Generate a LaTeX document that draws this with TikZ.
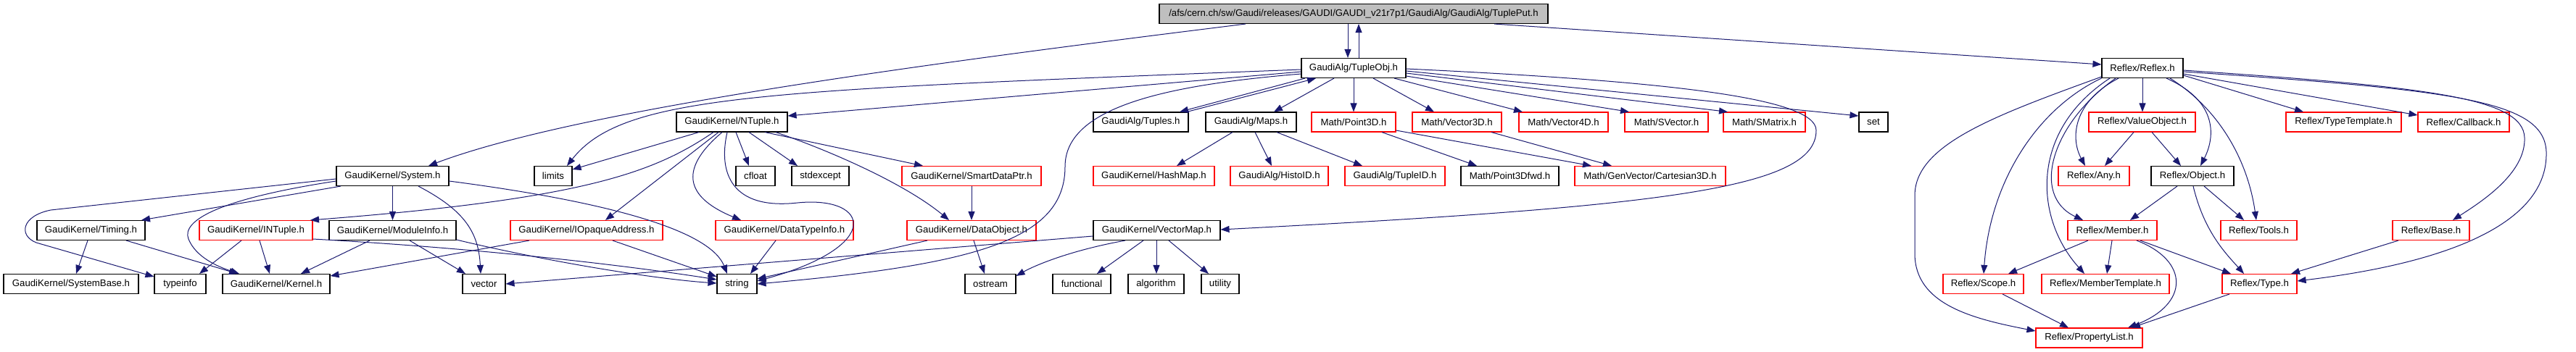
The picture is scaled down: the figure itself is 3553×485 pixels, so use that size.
\documentclass[tikz,border=0pt]{standalone}
\usepackage{fontspec}
\setmainfont{Liberation Sans}
\usetikzlibrary{arrows.meta}
\definecolor{edgeblue}{RGB}{25,25,112}
\definecolor{topgray}{RGB}{191,191,191}
\begin{document}
\begin{tikzpicture}[x=1pt,y=-1pt,
  file/.style={draw=black, line width=1.1pt, minimum height=27pt, inner sep=0pt, font=\fontsize{13.2}{15}\selectfont},
  redfile/.style={file, draw=red},
  dep/.style={draw=edgeblue, line width=1pt, -{Triangle[length=12pt,width=9pt]}}]
\useasboundingbox[fill=white] (0,0) rectangle (3553,485);
% row 0
\node[file, fill=topgray, minimum width=536pt] (top) at (1867,19) {/afs/cern.ch/sw/Gaudi/releases/GAUDI/GAUDI\_v21r7p1/GaudiAlg/GaudiAlg/TuplePut.h};
% row 1
\node[file, minimum width=144pt] (tupleobj) at (1867,94) {GaudiAlg/TupleObj.h};
\node[file, minimum width=112pt] (reflex) at (2955,94) {Reflex/Reflex.h};
% row 2
\node[file, minimum width=153pt] (ntuple) at (1009.5,168.5) {GaudiKernel/NTuple.h};
\node[file, minimum width=131pt] (tuples) at (1573.5,168.5) {GaudiAlg/Tuples.h};
\node[file, minimum width=125pt] (maps) at (1725.5,168.5) {GaudiAlg/Maps.h};
\node[redfile, minimum width=116pt] (point3d) at (1867,168.5) {Math/Point3D.h};
\node[redfile, minimum width=123pt] (vector3d) at (2009.5,168.5) {Math/Vector3D.h};
\node[redfile, minimum width=123pt] (vector4d) at (2156.5,168.5) {Math/Vector4D.h};
\node[redfile, minimum width=115pt] (svector) at (2298.5,168.5) {Math/SVector.h};
\node[redfile, minimum width=113pt] (smatrix) at (2433.5,168.5) {Math/SMatrix.h};
\node[file, minimum width=40pt] (set) at (2584,168.5) {set};
\node[redfile, minimum width=147pt] (valueobject) at (2954.5,168.5) {Reflex/ValueObject.h};
\node[redfile, minimum width=159pt] (typetemplate) at (3232.5,168.5) {Reflex/TypeTemplate.h};
\node[redfile, minimum width=126pt] (callback) at (3398,168.5) {Reflex/Callback.h};
% row 3
\node[file, minimum width=155pt] (system) at (541.5,243) {GaudiKernel/System.h};
\node[file, minimum width=52pt] (limits) at (763,243) {limits};
\node[file, minimum width=54pt] (cfloat) at (1042,243) {cfloat};
\node[file, minimum width=79pt] (stdexcept) at (1131.5,243) {stdexcept};
\node[redfile, minimum width=192pt] (smartdataptr) at (1340,243) {GaudiKernel/SmartDataPtr.h};
\node[redfile, minimum width=167pt] (hashmap) at (1591.5,243) {GaudiKernel/HashMap.h};
\node[redfile, minimum width=135pt] (histoid) at (1764.5,243) {GaudiAlg/HistoID.h};
\node[redfile, minimum width=138pt] (tupleid) at (1924,243) {GaudiAlg/TupleID.h};
\node[file, minimum width=135pt] (point3dfwd) at (2082.5,243) {Math/Point3Dfwd.h};
\node[redfile, minimum width=208pt] (cartesian) at (2276,243) {Math/GenVector/Cartesian3D.h};
\node[redfile, minimum width=98pt] (any) at (2888,243) {Reflex/Any.h};
\node[file, minimum width=114pt] (object) at (3024,243) {Reflex/Object.h};
% row 4
\node[file, minimum width=149pt] (timing) at (125.5,318) {GaudiKernel/Timing.h};
\node[redfile, minimum width=156pt] (intuple) at (353,318) {GaudiKernel/INTuple.h};
\node[file, minimum width=175pt] (moduleinfo) at (541.5,318) {GaudiKernel/ModuleInfo.h};
\node[redfile, minimum width=210pt] (iopaque) at (809,318) {GaudiKernel/IOpaqueAddress.h};
\node[redfile, minimum width=190pt] (datatypeinfo) at (1082,318) {GaudiKernel/DataTypeInfo.h};
\node[redfile, minimum width=178pt] (dataobject) at (1340,318) {GaudiKernel/DataObject.h};
\node[file, minimum width=175pt] (vectormap) at (1595.5,318) {GaudiKernel/VectorMap.h};
\node[redfile, minimum width=123pt] (member) at (2913.5,318) {Reflex/Member.h};
\node[redfile, minimum width=105pt] (tools) at (3115.5,318) {Reflex/Tools.h};
\node[redfile, minimum width=106pt] (base) at (3353,318) {Reflex/Base.h};
% row 5
\node[file, minimum width=186pt] (systembase) at (98,392) {GaudiKernel/SystemBase.h};
\node[file, minimum width=71pt] (typeinfo) at (248.5,392) {typeinfo};
\node[file, minimum width=148pt] (kernel) at (381,392) {GaudiKernel/Kernel.h};
\node[file, minimum width=59pt] (vector) at (667.5,392) {vector};
\node[file, minimum width=55pt] (string) at (1016.5,392) {string};
\node[file, minimum width=70pt] (ostream) at (1366,392) {ostream};
\node[file, minimum width=80pt] (functional) at (1492,392) {functional};
\node[file, minimum width=77pt] (algorithm) at (1594.5,392) {algorithm};
\node[file, minimum width=52pt] (utility) at (1683,392) {utility};
\node[redfile, minimum width=111pt] (scope) at (2735.5,392) {Reflex/Scope.h};
\node[redfile, minimum width=176pt] (membertemplate) at (2904,392) {Reflex/MemberTemplate.h};
\node[redfile, minimum width=103pt] (type) at (3116.5,392) {Reflex/Type.h};
% row 6
\node[redfile, minimum width=147pt] (propertylist) at (2881.5,466.5) {Reflex/PropertyList.h};

% ---- edges: TuplePut.h
\draw[dep] (top.south -| 1718,0) .. controls (1300,85) and (800,150) .. (system.north -| 591,0);
\draw[dep] (top.south -| 1859,0) -- (tupleobj.north -| 1859,0);
\draw[dep] (tupleobj.north -| 1874,0) -- (top.south -| 1874,0);
\draw[dep] (top.south -| 2061,0) -- (reflex.west |- 0,89);
% ---- TupleObj.h
\draw[dep] (tupleobj.west |- 0,96) .. controls (1050,125) and (860,130) .. (limits.north -| 782,0);
\draw[dep] (tupleobj.west |- 0,99) -- (ntuple.east |- 0,160);
\draw[dep] (tupleobj.west |- 0,102) .. controls (1600,118) and (1469,150) .. (1469,230) .. controls (1469,330) and (1350,365) .. (string.east |- 0,392);
\draw[dep] (tupleobj.south -| 1800,0) -- (tuples.north -| 1627,0);
\draw[dep] (tuples.north -| 1637,0) -- (tupleobj.south -| 1815,0);
\draw[dep] (tupleobj.south -| 1840,0) -- (maps.north -| 1757,0);
\draw[dep] (tupleobj.south) -- (point3d.north);
\draw[dep] (tupleobj.south -| 1894,0) -- (vector3d.north -| 1978,0);
\draw[dep] (tupleobj.south -| 1923,0) -- (vector4d.north -| 2100,0);
\draw[dep] (tupleobj.east |- 0,105) -- (svector.north -| 2247,0);
\draw[dep] (tupleobj.east |- 0,101) -- (smatrix.north -| 2383,0);
\draw[dep] (tupleobj.east |- 0,98) -- (set.west |- 0,160);
\draw[dep] (tupleobj.east |- 0,95) .. controls (2300,112) and (2505,135) .. (2505,180) .. controls (2505,260) and (2300,285) .. (vectormap.east |- 0,317);
% ---- NTuple.h
\draw[dep] (ntuple.south -| 964,0) -- (limits.east |- 0,234);
\draw[dep] (ntuple.south -| 984,0) .. controls (900,240) and (800,275) .. (intuple.north -| 428,0);
\draw[dep] (ntuple.south -| 991,0) -- (iopaque.north -| 835,0);
\draw[dep] (ntuple.south -| 996,0) .. controls (940,230) and (940,270) .. (datatypeinfo.north -| 1022,0);
\draw[dep] (ntuple.south -| 1003,0) .. controls (990,240) and (1010,290) .. (1100,280) .. controls (1200,270) and (1220,340) .. (string.east |- 0,388);
\draw[dep] (ntuple.south -| 1015,0) -- (cfloat.north -| 1033,0);
\draw[dep] (ntuple.south -| 1033,0) -- (stdexcept.north -| 1100,0);
\draw[dep] (ntuple.south -| 1055,0) -- (smartdataptr.north -| 1273,0);
\draw[dep] (ntuple.south -| 1070,0) .. controls (1150,210) and (1250,255) .. (dataobject.north -| 1309,0);
% ---- System.h
\draw[dep] (system.south -| 470,0) -- (timing.north -| 195,0);
\draw[dep] (system.west |- 0,247) -- (70,290) .. controls (30,298) and (25,325) .. (50,335) -- (typeinfo.west |- 0,382);
\draw[dep] (system.west |- 0,250) .. controls (300,275) and (250,305) .. (260,330) .. controls (270,355) and (300,368) .. (kernel.north -| 330,0);
\draw[dep] (system.south) -- (moduleinfo.north);
\draw[dep] (system.south -| 577,0) .. controls (640,290) and (660,320) .. (vector.north -| 663,0);
\draw[dep] (system.east |- 0,250) .. controls (850,280) and (980,320) .. (string.north -| 1003,0);
% ---- INTuple.h
\draw[dep] (intuple.south -| 333,0) -- (typeinfo.north -| 275,0);
\draw[dep] (intuple.south -| 358,0) -- (kernel.north -| 372,0);
\draw[dep] (intuple.east |- 0,330) .. controls (700,345) and (900,372) .. (string.west |- 0,386);
% ---- ModuleInfo.h
\draw[dep] (moduleinfo.south -| 510,0) -- (kernel.north -| 415,0);
\draw[dep] (moduleinfo.south -| 565,0) -- (vector.north -| 642,0);
\draw[dep] (moduleinfo.east |- 0,331) .. controls (750,360) and (900,385) .. (string.west |- 0,391);
% ---- IOpaqueAddress.h, DataTypeInfo.h, SmartDataPtr.h, DataObject.h
\draw[dep] (iopaque.south -| 730,0) -- (kernel.east |- 0,381);
\draw[dep] (iopaque.south -| 845,0) -- (string.west |- 0,382);
\draw[dep] (datatypeinfo.south -| 1070,0) -- (string.north -| 1035,0);
\draw[dep] (smartdataptr.south) -- (dataobject.north);
\draw[dep] (dataobject.south -| 1343,0) -- (ostream.north -| 1358,0);
\draw[dep] (dataobject.south -| 1279,0) -- (string.east |- 0,385);
% ---- VectorMap.h
\draw[dep] (vectormap.west |- 0,326) -- (vector.east |- 0,392);
\draw[dep] (vectormap.south -| 1552,0) .. controls (1480,345) and (1430,365) .. (ostream.east |- 0,381);
\draw[dep] (vectormap.south -| 1577,0) -- (functional.north -| 1513,0);
\draw[dep] (vectormap.south -| 1595,0) -- (algorithm.north -| 1595,0);
\draw[dep] (vectormap.south -| 1612,0) -- (utility.north -| 1667,0);
% ---- Timing.h
\draw[dep] (timing.south -| 121,0) -- (systembase.north -| 105,0);
\draw[dep] (timing.south -| 174,0) -- (kernel.north -| 328,0);
% ---- Maps.h, Point3D.h, Vector3D.h
\draw[dep] (maps.south -| 1700,0) -- (hashmap.north -| 1623,0);
\draw[dep] (maps.south -| 1731,0) -- (histoid.north -| 1754,0);
\draw[dep] (maps.south -| 1761,0) -- (tupleid.north -| 1879,0);
\draw[dep] (point3d.south -| 1906,0) -- (point3dfwd.north -| 2037,0);
\draw[dep] (point3d.east |- 0,180) -- (cartesian.north -| 2195,0);
\draw[dep] (vector3d.south -| 2057,0) -- (cartesian.north -| 2223,0);
% ---- Reflex.h
\draw[dep] (reflex.south) -- (valueobject.north -| 2955,0);
\draw[dep] (reflex.south -| 2922,0) .. controls (2860,140) and (2855,190) .. (any.north -| 2876,0);
\draw[dep] (reflex.south -| 2988,0) .. controls (3060,140) and (3055,190) .. (object.north -| 3035,0);
\draw[dep] (reflex.south -| 2993,0) .. controls (3060,150) and (3100,220) .. (tools.north -| 3112,0);
\draw[dep] (reflex.west |- 0,106) .. controls (2750,160) and (2641,200) .. (2641,270) -- (2641,350) .. controls (2641,420) and (2720,440) .. (propertylist.west |- 0,457);
\draw[dep] (reflex.west |- 0,108) .. controls (2810,150) and (2745,250) .. (scope.north -| 2736,0);
\draw[dep] (reflex.south -| 2910,0) .. controls (2800,180) and (2805,300) .. (membertemplate.north -| 2875,0);
\draw[dep] (reflex.south -| 2918,0) .. controls (2830,170) and (2800,270) .. (member.north -| 2873,0);
\draw[dep] (reflex.east |- 0,104) -- (typetemplate.north -| 3177,0);
\draw[dep] (reflex.east |- 0,102) -- (callback.west |- 0,159);
\draw[dep] (reflex.east |- 0,97) .. controls (3350,120) and (3480,135) .. (3482,190) .. controls (3484,240) and (3420,280) .. (base.north -| 3383,0);
\draw[dep] (reflex.east |- 0,99) .. controls (3400,125) and (3515,140) .. (3512,215) .. controls (3510,300) and (3400,360) .. (type.east |- 0,388);
% ---- ValueObject.h, Object.h
\draw[dep] (valueobject.south -| 2943,0) -- (any.north -| 2903,0);
\draw[dep] (valueobject.south -| 2968,0) -- (object.north -| 3008,0);
\draw[dep] (object.south -| 3003,0) -- (member.north -| 2938,0);
\draw[dep] (object.south -| 3025,0) .. controls (3040,320) and (3070,350) .. (type.north -| 3095,0);
\draw[dep] (object.south -| 3040,0) -- (tools.north -| 3095,0);
% ---- Member.h, Scope.h, Type.h, Base.h
\draw[dep] (member.south -| 2880,0) -- (scope.north -| 2770,0);
\draw[dep] (member.south -| 2913,0) -- (membertemplate.north -| 2906,0);
\draw[dep] (member.south -| 2947,0) .. controls (3020,360) and (3020,420) .. (propertylist.north -| 2935,0);
\draw[dep] (member.south -| 2952,0) -- (type.north -| 3077,0);
\draw[dep] (scope.south -| 2762,0) -- (propertylist.north -| 2853,0);
\draw[dep] (type.south -| 3075,0) -- (propertylist.north -| 2940,0);
\draw[dep] (base.south -| 3308,0) -- (type.north -| 3160,0);
\end{tikzpicture}
\end{document}
